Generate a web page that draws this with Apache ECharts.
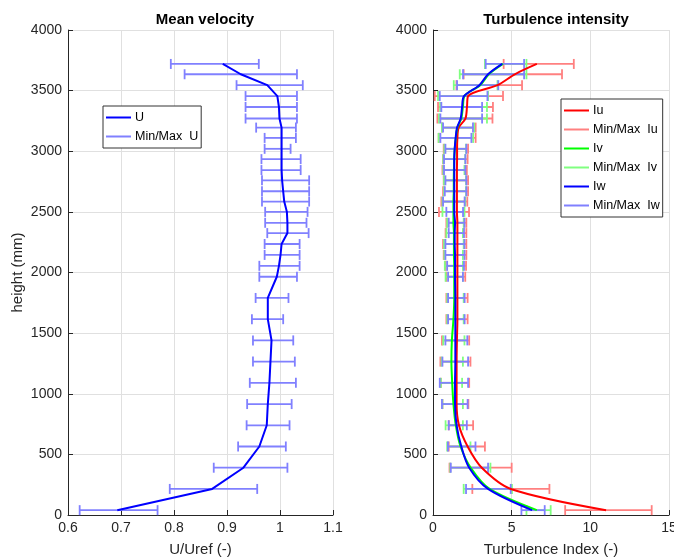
<!DOCTYPE html>
<html lang="en">
  <head>
    <meta charset="utf-8" />
    <title>Mean velocity / Turbulence intensity</title>
    <script src="https://cdn.jsdelivr.net/npm/echarts@6.0.0/dist/echarts.min.js"></script>
    <style>
      html, body { margin: 0; padding: 0; background: #fff; }
      #main { width: 674px; height: 559px; }
    </style>
  </head>
  <body>
    <div id="main"></div>
    <script>
      // measurement heights (mm), bottom to top
      var heights = [40, 215, 390, 565, 740, 915, 1090, 1265, 1440, 1615, 1790, 1965, 2055, 2145, 2235, 2325,
        2410, 2500, 2585, 2670, 2760, 2845, 2935, 3020, 3110, 3195, 3270, 3365, 3455, 3545, 3635, 3720];

      // mean velocity U/Uref
      var uMean = [0.693, 0.872, 0.931, 0.961, 0.975, 0.977, 0.980, 0.982, 0.984, 0.977, 0.977, 0.994, 0.998, 1.001, 1.003, 1.014,
        1.014, 1.013, 1.008, 1.006, 1.004, 1.003, 1.003, 1.003, 1.003, 1.003, 0.999, 0.998, 0.995, 0.976, 0.926, 0.892];
      var uMin = [0.622, 0.792, 0.875, 0.921, 0.937, 0.938, 0.943, 0.949, 0.949, 0.947, 0.954, 0.961, 0.961, 0.971, 0.971, 0.976,
        0.972, 0.972, 0.966, 0.966, 0.966, 0.965, 0.965, 0.971, 0.971, 0.955, 0.935, 0.935, 0.935, 0.918, 0.820, 0.794];
      var uMax = [0.769, 0.957, 1.014, 1.011, 1.018, 1.022, 1.030, 1.028, 1.025, 1.006, 1.016, 1.032, 1.037, 1.037, 1.037, 1.054,
        1.050, 1.052, 1.055, 1.055, 1.055, 1.039, 1.039, 1.020, 1.030, 1.030, 1.032, 1.032, 1.032, 1.043, 1.032, 0.960];

      // turbulence intensity Iu, Iv, Iw
      var iuMean = [11.0, 4.95, 3.1, 2.2, 1.65, 1.5, 1.5, 1.5, 1.52, 1.55, 1.55, 1.55, 1.55, 1.55, 1.55, 1.55,
        1.55, 1.52, 1.52, 1.52, 1.52, 1.52, 1.53, 1.53, 1.55, 1.63, 2.06, 2.16, 2.23, 4.1, 5.2, 6.6];
      var iuMin = [8.4, 2.5, 1.05, 1.0, 1.0, 0.6, 0.5, 0.47, 0.57, 0.85, 0.85, 0.85, 0.8, 0.68, 0.64, 0.8,
        0.85, 0.38, 0.53, 0.64, 0.68, 0.6, 0.64, 0.68, 0.36, 0.57, 0.28, 0.32, 0.11, 1.49, 1.95, 4.49];
      var iuMax = [13.9, 7.4, 5.0, 3.3, 2.55, 2.25, 2.3, 2.38, 2.3, 2.2, 2.2, 2.05, 2.1, 2.12, 2.12, 2.12,
        2.12, 2.29, 2.18, 2.23, 2.23, 2.15, 2.2, 2.23, 2.71, 2.71, 3.78, 3.81, 4.45, 5.66, 8.2, 8.95];

      var ivMean = [6.6, 3.6, 2.4, 1.75, 1.45, 1.3, 1.22, 1.17, 1.2, 1.3, 1.35, 1.35, 1.35, 1.33, 1.33, 1.33,
        1.3, 1.3, 1.3, 1.32, 1.32, 1.33, 1.35, 1.38, 1.45, 1.55, 1.8, 1.9, 2.0, 3.0, 3.55, 4.45];
      var ivMin = [5.94, 1.95, 1.1, 0.9, 0.8, 0.6, 0.5, 0.55, 0.65, 0.9, 0.9, 0.8, 0.75, 0.72, 0.7, 0.85,
        0.9, 0.6, 0.6, 0.7, 0.7, 0.65, 0.65, 0.72, 0.36, 0.57, 0.38, 0.45, 0.32, 1.32, 1.7, 3.3];
      var ivMax = [7.48, 5.02, 3.65, 2.38, 1.9, 1.9, 1.85, 1.9, 2.0, 1.95, 1.95, 1.9, 1.9, 1.9, 1.95, 1.9,
        1.95, 2.0, 2.05, 2.1, 2.1, 2.0, 2.05, 2.1, 2.55, 2.62, 3.43, 3.43, 3.5, 4.1, 5.94, 5.94];

      var iwMean = [6.3, 3.5, 2.3, 1.8, 1.5, 1.4, 1.4, 1.42, 1.42, 1.42, 1.42, 1.4, 1.4, 1.4, 1.38, 1.38,
        1.4, 1.35, 1.35, 1.35, 1.35, 1.35, 1.35, 1.38, 1.44, 1.53, 1.76, 1.85, 1.97, 2.95, 3.5, 4.4];
      var iwMin = [5.62, 2.1, 1.13, 0.95, 1.0, 0.57, 0.43, 0.6, 0.79, 0.96, 0.96, 0.96, 0.9, 0.79, 0.79, 1.0,
        1.0, 0.85, 0.64, 0.75, 0.79, 0.7, 0.7, 0.79, 0.47, 0.64, 0.47, 0.53, 0.43, 1.53, 1.91, 3.35];
      var iwMax = [7.1, 4.94, 3.5, 2.7, 2.15, 2.2, 2.23, 2.23, 2.18, 2.01, 2.01, 1.9, 1.97, 2.0, 2.0, 1.97,
        2.0, 1.91, 2.01, 2.12, 2.12, 2.06, 2.06, 2.12, 2.44, 2.54, 3.12, 3.12, 3.46, 4.15, 5.79, 5.79];

      var velTicks = [0.6, 0.7, 0.8, 0.9, 1, 1.1];
      var tiTicks = [0, 5, 10, 15];

      var myChart = echarts.init(document.getElementById("main"));
      var font = "Liberation Sans, Arial, sans-serif";
      var txt = "#262626";

      function pairs(xs) {
        return xs.map(function (x, i) { return [x, heights[i]]; });
      }
      function bars(lo, hi) {
        return lo.map(function (v, i) { return [v, hi[i], heights[i]]; });
      }

      // horizontal error bar with caps
      function errorBar(color) {
        return function (params, api) {
          var a = api.coord([api.value(0), api.value(2)]);
          var b = api.coord([api.value(1), api.value(2)]);
          var c = 5;
          var st = { stroke: color, lineWidth: 1.8 };
          return {
            type: "group",
            children: [
              { type: "line", shape: { x1: a[0], y1: a[1], x2: b[0], y2: b[1] }, style: st },
              { type: "line", shape: { x1: a[0], y1: a[1] - c, x2: a[0], y2: a[1] + c }, style: st },
              { type: "line", shape: { x1: b[0], y1: b[1] - c, x2: b[0], y2: b[1] + c }, style: st }
            ]
          };
        };
      }

      function xAx(idx, min, max, interval, name) {
        return {
          type: "value", gridIndex: idx, min: min, max: max, interval: interval,
          name: name, nameLocation: "middle", nameGap: 27,
          nameTextStyle: { fontFamily: font, fontSize: 15, color: txt },
          axisLine: { show: true, onZero: false, lineStyle: { color: txt, width: 1 } },
          axisTick: { show: true, inside: true, length: 5, lineStyle: { color: txt } },
          axisLabel: { fontFamily: font, fontSize: 14, color: txt, margin: 6 },
          splitLine: { show: true, lineStyle: { color: "#e0e0e0" } }
        };
      }
      function yAx(idx, name) {
        return {
          type: "value", gridIndex: idx, min: 0, max: 4000, interval: 500,
          name: name, nameLocation: "middle", nameGap: 43,
          nameTextStyle: { fontFamily: font, fontSize: 15, color: txt },
          axisLine: { show: true, onZero: false, lineStyle: { color: txt, width: 1 } },
          axisTick: { show: true, inside: true, length: 5, lineStyle: { color: txt } },
          axisLabel: { fontFamily: font, fontSize: 14, color: txt, margin: 6,
            formatter: function (v) { return String(v); } },
          splitLine: { show: true, lineStyle: { color: "#e0e0e0" } }
        };
      }

      function errSeries(name, xi, lo, hi, color) {
        return {
          name: name, type: "custom", xAxisIndex: xi, yAxisIndex: xi,
          renderItem: errorBar(color), itemStyle: { color: color },
          encode: { x: [0, 1], y: 2 }, data: bars(lo, hi), z: 2
        };
      }
      function lineSeries(name, xi, xs, color, smooth) {
        return {
          name: name, type: "line", xAxisIndex: xi, yAxisIndex: xi,
          data: pairs(xs), showSymbol: false, smooth: smooth, z: 3,
          lineStyle: { color: color, width: 2 }, itemStyle: { color: color }
        };
      }

      var legendBase = {
        orient: "vertical", icon: "rect", itemWidth: 25, itemHeight: 2,
        backgroundColor: "#fff", borderColor: "#333", borderWidth: 1, borderRadius: 0,
        textStyle: { fontFamily: font, fontSize: 12.5, color: "#000", padding: [0, 0, 0, -1] }
      };

      var option = {
        animation: false,
        title: [
          { text: "Mean velocity", left: 200, top: 7, textAlign: "center",
            textStyle: { fontFamily: font, fontSize: 15, fontWeight: "bold", color: "#000" } },
          { text: "Turbulence intensity", left: 551, top: 7, textAlign: "center",
            textStyle: { fontFamily: font, fontSize: 15, fontWeight: "bold", color: "#000" } }
        ],
        legend: [
          Object.assign({}, legendBase, {
            left: 103, top: 106, padding: [5, 3], itemGap: 6,
            data: ["U", "Min/Max  U"]
          }),
          Object.assign({}, legendBase, {
            left: 561, top: 99, padding: [5, 3], itemGap: 6,
            data: ["Iu", "Min/Max  Iu", "Iv", "Min/Max  Iv", "Iw", "Min/Max  Iw"]
          })
        ],
        grid: [
          { left: 68, top: 30, width: 265, height: 485, outerBoundsMode: "none" },
          { left: 433, top: 30, width: 236, height: 485, outerBoundsMode: "none" }
        ],
        xAxis: [
          xAx(0, velTicks[0], velTicks[velTicks.length - 1], 0.1, "U/Uref (-)"),
          xAx(1, tiTicks[0], tiTicks[tiTicks.length - 1], 5, "Turbulence Index (-)")
        ],
        yAxis: [yAx(0, "height (mm)"), yAx(1, "")],
        series: [
          errSeries("Min/Max  U", 0, uMin, uMax, "#8080ff"),
          lineSeries("U", 0, uMean, "#0000ff", false),
          errSeries("Min/Max  Iu", 1, iuMin, iuMax, "#ff8080"),
          errSeries("Min/Max  Iv", 1, ivMin, ivMax, "#80ff80"),
          errSeries("Min/Max  Iw", 1, iwMin, iwMax, "#8080ff"),
          lineSeries("Iu", 1, iuMean, "#ff0000", 0.3),
          lineSeries("Iv", 1, ivMean, "#00ff00", 0.3),
          lineSeries("Iw", 1, iwMean, "#0000ff", 0.3)
        ]
      };

      myChart.setOption(option);
    </script>
  </body>
</html>
